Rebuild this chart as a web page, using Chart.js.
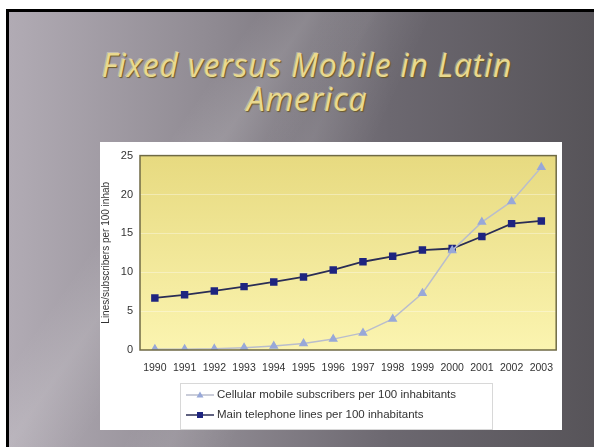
<!DOCTYPE html>
<html>
<head>
<meta charset="utf-8">
<script src="https://cdn.jsdelivr.net/npm/chart.js@4"></script>
<style>
  html, body { margin: 0; padding: 0; background: #fff; }
  #slide {
    position: absolute; left: 6px; top: 9px; width: 588px; height: 438px;
    box-sizing: border-box; border-left: 3px solid #000; border-top: 3px solid #000;
    background:
      linear-gradient(125deg, rgba(255,255,255,0) 28%, rgba(255,255,255,0.12) 34%, rgba(255,255,255,0) 42%),
      linear-gradient(115deg, rgba(255,255,255,0) 40%, rgba(255,255,255,0.08) 46%, rgba(255,255,255,0) 54%),
      linear-gradient(90deg, #b1abb4 0%, #8f8a92 35%, #6c6870 65%, #575459 100%);
    overflow: hidden;
  }
  #title {
    position: absolute; left: 4px; top: 36px; width: 588px; text-align: center;
    font-family: "Open Sans", sans-serif; font-style: italic; font-weight: 400;
    font-size: 32px; line-height: 34px; color: #e9d98f; letter-spacing: 0.8px;
    text-shadow: 1px 1px 1px #6b5a2a, -1px -1px 0 rgba(255,250,210,0.35);
  }
  #box { position: absolute; left: 100px; top: 142px; width: 462px; height: 288px; background: #fff; }
</style>
</head>
<body>
<div id="slide">
  <div id="title">Fixed versus Mobile in Latin<br>America</div>
</div>
<div id="box"><canvas id="chart" width="462" height="288"></canvas></div>
<script>
const years = ["1990", "1991", "1992", "1993", "1994", "1995", "1996", "1997", "1998", "1999", "2000", "2001", "2002", "2003"];
const cellular = [0.1, 0.1, 0.15, 0.3, 0.5, 0.85, 1.4, 2.2, 4.0, 7.3, 12.8, 16.45, 19.1, 23.5];
const mainLines = [6.7, 7.1, 7.6, 8.15, 8.75, 9.4, 10.3, 11.35, 12.05, 12.85, 13.05, 14.6, 16.25, 16.6];
const yTicks = [0, 5, 10, 15, 20, 25];

// фон области графика и рамка
const plotBg = {
  id: "plotBg",
  beforeDraw(chart) {
    const { ctx, chartArea: a } = chart;
    const g = ctx.createLinearGradient(0, a.top, 0, a.bottom);
    g.addColorStop(0, "#e7da80");
    g.addColorStop(1, "#fbf4b0");
    ctx.save();
    ctx.fillStyle = g;
    ctx.fillRect(a.left, a.top, a.right - a.left, a.bottom - a.top);
    ctx.restore();
  },
  afterDatasetsDraw(chart) {
    const { ctx, chartArea: a } = chart;
    ctx.save();
    ctx.strokeStyle = "#6f6a45";
    ctx.lineWidth = 1.5;
    ctx.strokeRect(a.left, a.top, a.right - a.left, a.bottom - a.top);
    ctx.restore();
  },
};

// легенда в рамке под осью X
const boxLegend = {
  id: "boxLegend",
  afterDraw(chart) {
    const ctx = chart.ctx;
    const x0 = 80, y0 = 241, w = 312, h = 46;
    ctx.save();
    ctx.strokeStyle = "#d8d8d8";
    ctx.lineWidth = 1;
    ctx.strokeRect(x0 + 0.5, y0 + 0.5, w, h);
    ctx.font = "11.5px 'Liberation Sans', Arial, sans-serif";
    ctx.textBaseline = "middle";
    chart.data.datasets.forEach((ds, i) => {
      const y = y0 + 12 + i * 20;
      ctx.strokeStyle = ds.borderColor;
      ctx.lineWidth = 1.5;
      ctx.beginPath();
      ctx.moveTo(x0 + 6, y);
      ctx.lineTo(x0 + 34, y);
      ctx.stroke();
      ctx.fillStyle = ds.pointBackgroundColor;
      if (ds.pointStyle === "triangle") {
        ctx.beginPath();
        ctx.moveTo(x0 + 20, y - 3.5);
        ctx.lineTo(x0 + 23.5, y + 2.5);
        ctx.lineTo(x0 + 16.5, y + 2.5);
        ctx.closePath();
        ctx.fill();
      } else {
        ctx.fillRect(x0 + 17, y - 3, 6, 6);
      }
      ctx.fillStyle = "#333";
      ctx.fillText(ds.label, x0 + 37, y);
    });
    ctx.restore();
  },
};

new Chart(document.getElementById("chart"), {
  type: "line",
  data: {
    labels: years,
    datasets: [
      {
        label: "Cellular mobile subscribers per 100 inhabitants",
        data: cellular,
        borderColor: "#b9bdcc",
        borderWidth: 1.5,
        pointStyle: "triangle",
        pointRadius: 4,
        pointBackgroundColor: "#98a8d8",
        pointBorderColor: "#98a8d8",
        tension: 0,
      },
      {
        label: "Main telephone lines per 100 inhabitants",
        data: mainLines,
        borderColor: "#2a2d55",
        borderWidth: 1.8,
        pointStyle: "rect",
        pointRadius: 4,
        pointBackgroundColor: "#1e2480",
        pointBorderColor: "#1e2480",
        tension: 0,
      },
    ],
  },
  options: {
    responsive: false,
    animation: false,
    layout: { padding: { left: 0, right: 2, top: 5, bottom: 0 } },
    plugins: { legend: { display: false }, tooltip: { enabled: false } },
    scales: {
      x: {
        offset: true,
        grid: { display: false },
        border: { display: false },
        ticks: {
          color: "#333",
          padding: 4,
          maxRotation: 0,
          autoSkip: false,
          font: { family: "'Liberation Sans', Arial, sans-serif", size: 10.5 },
        },
        afterFit: (s) => { s.height = 80; },
      },
      y: {
        min: 0,
        max: 25,
        afterBuildTicks: (s) => { s.ticks = yTicks.map((v) => ({ value: v })); },
        grid: { color: "rgba(255,255,255,0.35)", drawTicks: false },
        border: { display: false },
        ticks: {
          color: "#333",
          padding: 7,
          font: { family: "'Liberation Sans', Arial, sans-serif", size: 11 },
        },
        title: {
          display: true,
          text: "Lines/subscribers per 100 inhab",
          color: "#333",
          padding: { top: 0, bottom: 0 },
          font: { family: "'Liberation Sans', Arial, sans-serif", size: 10 },
        },
        afterFit: (s) => { s.width = 40; },
      },
    },
  },
  plugins: [plotBg, boxLegend],
});
</script>
</body>
</html>
